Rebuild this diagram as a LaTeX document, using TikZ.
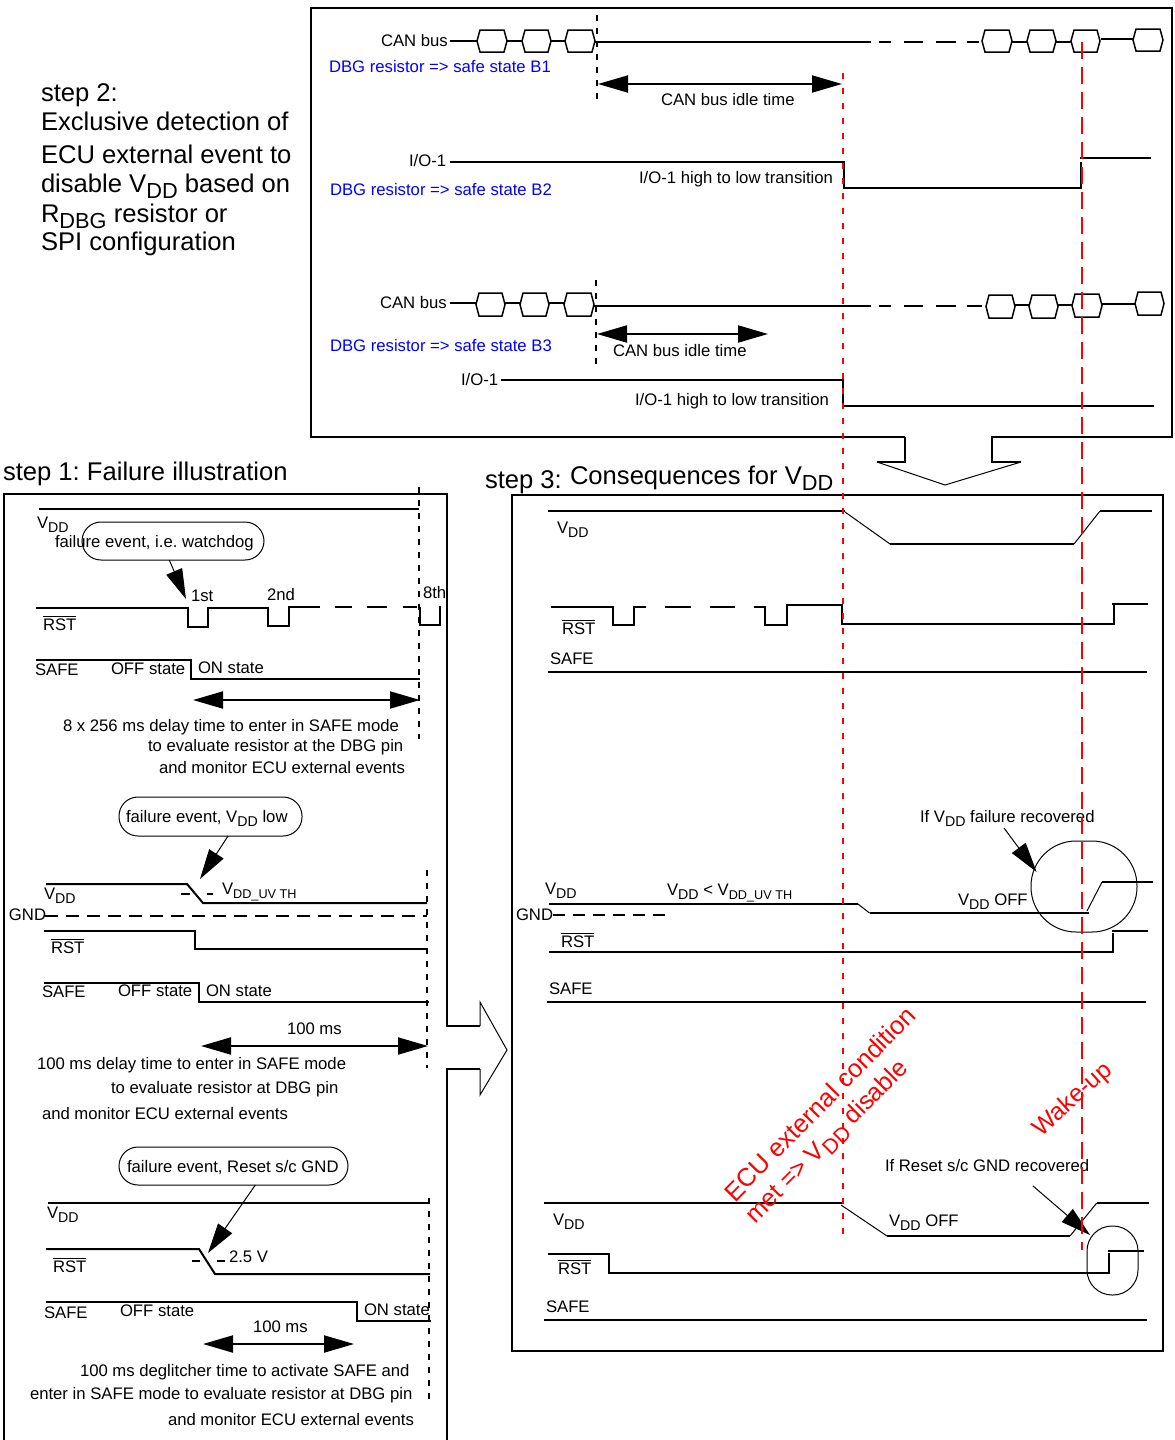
\documentclass[tikz,border=0pt]{standalone}
\usepackage{fontspec}
\setmainfont{Liberation Sans}
\usetikzlibrary{arrows.meta}
\frenchspacing
\newcommand{\lowtxt}[1]{\raisebox{-0.24em}{\scalebox{0.85}{#1}}}
\newcommand{\lowsmall}[1]{\raisebox{-0.24em}{\scalebox{0.76}{#1}}}
\newcommand{\vdd}{V\lowtxt{DD}}
\newcommand{\rstbar}{\leavevmode\vbox{\hrule height 1.2pt\kern 1.6pt\hbox{RST}}}
\newcommand{\hexa}[4]{\draw[wave,line width=1.5pt] (#1,{(#3+#4)/2}) -- (#1+3,#3) -- (#2-3,#3) -- (#2,{(#3+#4)/2}) -- (#2-3,#4) -- (#1+3,#4) -- cycle;}
\tikzset{
  txt/.style={inner sep=0pt,outer sep=0pt,anchor=base west,font=\fontsize{16.7}{18}\selectfont,text=black},
  bluetxt/.style={txt,text=blue},
  bigtxt/.style={txt,font=\fontsize{25.6}{28}\selectfont},
  redtxt/.style={txt,text=red,font=\fontsize{25.5}{28}\selectfont},
  wave/.style={line width=2pt,black,line join=miter},
  frame/.style={line width=2pt,black},
  vdash/.style={line width=2pt,black,dash pattern=on 6pt off 7pt},
  hdash/.style={line width=2pt,black},
  reddot/.style={line width=2pt,red,dash pattern=on 6pt off 9pt},
  reddash/.style={line width=2pt,red,dash pattern=on 17pt off 8pt},
  span/.style={line width=2pt,black,{Triangle[length=30pt,width=17pt]}-{Triangle[length=30pt,width=17pt]}},
  callout/.style={line width=1pt,black,-{Triangle[length=30pt,width=17pt]}},
  pill/.style={draw,line width=1pt,rounded corners=19pt,inner sep=0pt,outer sep=0pt},
}
\begin{document}
\begin{tikzpicture}[x=1pt,y=-1pt]
\useasboundingbox[fill=white] (0,0) rectangle (1175,1440);

% --- frames with block arrows ---
\draw[frame] (905,437) -- (311,437) -- (311,8) -- (1172,8) -- (1172,437) -- (992,437) -- (992,462) -- (1021,462);
\draw[line width=1pt] (1021,462) -- (945,485) -- (877,462);
\draw[frame] (877,462) -- (905,462) -- (905,437);
\draw[frame] (512,495) rectangle (1163,1351);
\draw[frame] (4,1441) -- (4,494) -- (447,494) -- (447,1026) -- (480,1026);
\draw[line width=1pt] (480,1026) -- (480,1002) -- (507,1050) -- (480,1095) -- (480,1069);
\draw[frame] (480,1069) -- (447,1069) -- (447,1441);

% --- step 2 text ---
\node[bigtxt] (s2a) at (41,101) {step 2:};
\node[bigtxt] (s2b) at (41,130) {Exclusive detection of};
\node[bigtxt] (s2c) at (41,163) {ECU external event to};
\node[bigtxt] (s2d) at (41,192) {disable \vdd{} based on};
\node[bigtxt] (s2e) at (41,222) {R\lowtxt{DBG} resistor or};
\node[bigtxt] (s2f) at (41,250) {SPI configuration};
\node[bigtxt] (s1) at (3,480) {step 1: Failure illustration};
\node[bigtxt] (s3a) at (485,488) {step 3:};
\node[bigtxt] (s3b) at (570,484) {Consequences for \vdd};

% --- top panel: B1 ---
\node[txt] (can1) at (381,46) {CAN bus};
\draw[wave] (450,41) -- (477,41) (507,41) -- (522,41) (551,41) -- (565,41);
\hexa{477}{507}{30}{52}\hexa{522}{551}{30}{52}\hexa{565}{595}{30}{52}
\draw[wave] (595,42) -- (871,42);
\draw[wave] (879,42) -- (891,42) (904,42) -- (923,42) (936,42) -- (956,42) (967,42) -- (979,42);
\hexa{982}{1012}{30}{52}\hexa{1027}{1056}{30}{52}\hexa{1071}{1100}{30}{52}\hexa{1133}{1163}{29}{51}
\draw[wave] (1012,42) -- (1027,42) (1056,42) -- (1071,42) (1101,39) -- (1133,39);
\draw[vdash] (597,15) -- (597,103);
\node[bluetxt] (b1) at (329,72) {DBG resistor => safe state B1};
\draw[span] (598,84) -- (842,84);
\node[txt] (idle1) at (661,105) {CAN bus idle time};
% I/O-1 first
\node[txt] (io1) at (409,166) {I/O-1};
\draw[wave] (450,162) -- (844,162) -- (844,188) -- (1081,188) -- (1081,162);
\draw[wave] (1080,158) -- (1151,158);
\node[txt] (tr1) at (639,183) {I/O-1 high to low transition};
\node[bluetxt] (b2) at (330,195) {DBG resistor => safe state B2};
% B3
\node[txt] (can2) at (380,308) {CAN bus};
\draw[wave] (450,303) -- (476,303) (505,303) -- (520,303) (549,303) -- (564,303);
\hexa{476}{505}{293}{316}\hexa{520}{549}{293}{316}\hexa{564}{594}{293}{316}
\draw[wave] (594,306) -- (871,306);
\draw[wave] (879,306) -- (891,306) (904,306) -- (923,306) (936,306) -- (956,306) (967,306) -- (982,306);
\hexa{986}{1015}{295}{318}\hexa{1029}{1058}{295}{318}\hexa{1072}{1102}{294}{317}\hexa{1135}{1164}{292}{315}
\draw[wave] (1015,305) -- (1029,305) (1058,305) -- (1072,305) (1102,304) -- (1135,304);
\draw[vdash] (596,280) -- (596,368);
\draw[span] (597,334) -- (768,334);
\node[txt] (idle2) at (613,356) {CAN bus idle time};
\node[bluetxt] (b3) at (330,351) {DBG resistor => safe state B3};
\node[txt] (io2) at (461,385) {I/O-1};
\draw[wave] (501,380) -- (843,380) -- (843,406) -- (1154,406);
\node[txt] (tr2) at (635,405) {I/O-1 high to low transition};

% --- left panel: group 1 ---
\draw[wave] (39,509) -- (419,509);
\node[txt] (l1v) at (37,528) {\vdd};
\node[pill,minimum width=182pt,minimum height=38pt] (pill1) at (173,541) {};
\node[txt] (l1f) at (55,547) {failure event, i.e. watchdog};
\coordinate (t1) at (186,599);
\draw[callout] (pill1.-101) -- (t1);
\node[txt] (l1a) at (191,601) {1st};
\node[txt] (l1b) at (267,600) {2nd};
\node[txt] (l1c) at (423,598) {8th};
\draw[wave] (36,608) -- (188,608) -- (188,627) -- (208,627) -- (208,608) -- (268,608) -- (268,626) -- (289,626) -- (289,607) -- (320,607);
\draw[wave] (335,607) -- (352,607) (367,607) -- (387,607) (403,607) -- (417,607);
\draw[wave] (419.5,607) -- (419.5,625) -- (440,625) -- (440,606);
\node[txt] (l1r) at (43,630) {\rstbar};
\draw[wave] (36,660) -- (191,660) -- (191,679) -- (420,679);
\node[txt] (l1s) at (35,675) {SAFE};
\node[txt] (l1o) at (111,674) {OFF state};
\node[txt] (l1n) at (198,673) {ON state};
\draw[span] (193,700) -- (420,700);
\node[txt] (l1t1) at (63,731) {8 x 256 ms delay time to enter in SAFE mode};
\node[txt] (l1t2) at (148,751) {to evaluate resistor at the DBG pin};
\node[txt] (l1t3) at (159,773) {and monitor ECU external events};
\draw[vdash] (419,487) -- (419,739);

% --- left panel: group 2 ---
\node[pill,minimum width=183pt,minimum height=39pt] (pill2) at (210.5,816.5) {};
\node[txt] (l2f) at (126,822) {failure event, \vdd{} low};
\coordinate (t2) at (200,879);
\draw[callout] (pill2.-48) -- (t2);
\draw[wave] (46,884) -- (187,884) -- (203,903) -- (427,903);
\draw[hdash,dash pattern=on 9pt off 17pt] (181,894) -- (213,894);
\node[txt] (l2v) at (44,899) {\vdd};
\node[txt] (l2u) at (222,894) {V\lowsmall{DD\_UV TH}};
\node[txt] (l2g) at (9,920) {GND};
\draw[hdash,dash pattern=on 13pt off 8pt] (45,916) -- (427,916);
\draw[wave] (44,931) -- (195,931) -- (195,949) -- (428,949);
\node[txt] (l2r) at (51,953) {\rstbar};
\draw[wave] (44,983) -- (199,983) -- (199,1002) -- (429,1002);
\node[txt] (l2s) at (42,997) {SAFE};
\node[txt] (l2o) at (118,996) {OFF state};
\node[txt] (l2n) at (206,996) {ON state};
\node[txt] (l2m) at (287,1034) {100 ms};
\draw[span] (201,1046) -- (428,1046);
\node[txt] (l2t1) at (37,1069) {100 ms delay time to enter in SAFE mode};
\node[txt] (l2t2) at (111,1093) {to evaluate resistor at DBG pin};
\node[txt] (l2t3) at (42,1119) {and monitor ECU external events};
\draw[vdash] (427,870) -- (427,1068);

% --- left panel: group 3 ---
\node[pill,minimum width=229pt,minimum height=38pt] (pill3) at (233.5,1166) {};
\node[txt] (l3f) at (127,1172) {failure event, Reset s/c GND};
\coordinate (t3) at (208,1253);
\draw[callout] (pill3.-41.5) -- (t3);
\draw[wave] (48,1203) -- (430,1203);
\node[txt] (l3v) at (47,1218) {\vdd};
\draw[wave] (46,1249) -- (199,1249) -- (215,1274) -- (430,1274);
\draw[hdash,dash pattern=on 8pt off 17pt] (192,1261) -- (225,1261);
\node[txt] (l3u) at (229,1262) {2.5 V};
\node[txt] (l3r) at (53,1272) {\rstbar};
\draw[wave] (46,1302) -- (357,1302) -- (357,1321) -- (431,1321);
\node[txt] (l3s) at (44,1318) {SAFE};
\node[txt] (l3o) at (120,1316) {OFF state};
\node[txt] (l3n) at (364,1315) {ON state};
\node[txt] (l3m) at (253,1332) {100 ms};
\draw[span] (203,1344) -- (354,1344);
\node[txt] (l3t1) at (80,1376) {100 ms deglitcher time to activate SAFE and};
\node[txt] (l3t2) at (30,1399) {enter in SAFE mode to evaluate resistor at DBG pin};
\node[txt] (l3t3) at (168,1425) {and monitor ECU external events};
\draw[vdash] (429,1198) -- (429,1400);

% --- step 3 panel: group 1 ---
\draw[wave] (548,511) -- (845,511);
\draw[line width=1pt] (845,512) -- (890,544);
\draw[wave] (890,544) -- (1074,544);
\draw[line width=1pt] (1074,544) -- (1100,511);
\draw[wave] (1100,511) -- (1152,511);
\node[txt] (r1v) at (557,533) {\vdd};
\draw[wave] (551,607) -- (613,607) -- (613,625) -- (634,625) -- (634,607) -- (645.5,607);
\draw[wave] (665,607) -- (691,607) (710,607) -- (735,607) (754,607) -- (765,607) -- (765,625) -- (787,625) -- (787,605) -- (842,605) -- (842,624) -- (1114,624) -- (1114,605);
\draw[wave] (1112,604) -- (1148,604);
\node[txt] (r1r) at (562,634) {\rstbar};
\node[txt] (r1s) at (550,664) {SAFE};
\draw[wave] (548,672) -- (1147,672);

% --- step 3 panel: group 2 ---
\draw[wave] (549,904) -- (858,904);
\draw[line width=1pt] (858,904) -- (869.5,913);
\draw[wave] (869.5,913) -- (1089,913);
\draw[line width=1pt] (1087,911) -- (1102,882);
\draw[wave] (1102,882) -- (1153,882);
\node[txt] (r2v) at (545,894) {\vdd};
\node[txt] (r2c) at (667,895) {\vdd{} < V\lowsmall{DD\_UV TH}};
\node[txt] (r2g) at (516,920) {GND};
\draw[hdash,dash pattern=on 12pt off 8pt] (553,915) -- (668,915);
\node[txt] (r2o) at (958,905) {\vdd{} OFF};
\node[txt] (r2i) at (920,822) {If \vdd{} failure recovered};
\node[draw,line width=1pt,rounded corners=45pt,inner sep=0pt,minimum width=106pt,minimum height=91pt] (pill4) at (1084,886.5) {};
\coordinate (c4a) at (1004,828);
\coordinate (c4b) at (1036.6,872);
\draw[callout] (c4a) -- (c4b);
\draw[wave] (549,952) -- (1113,952) -- (1113,933);
\draw[wave] (1112,931) -- (1148,931);
\node[txt] (r2r) at (561,947) {\rstbar};
\node[txt] (r2s) at (549,994) {SAFE};
\draw[wave] (547,1002) -- (1146,1002);

% --- step 3 panel: group 3 ---
\draw[wave] (544,1203) -- (843,1203);
\draw[line width=1pt] (841,1205) -- (887,1236);
\draw[wave] (887,1236) -- (1070,1236);
\draw[line width=1pt] (1070,1236) -- (1096.7,1203);
\draw[wave] (1096.7,1203) -- (1149,1203);
\node[txt] (r3v) at (553,1225) {\vdd};
\node[txt] (r3o) at (889,1226) {\vdd{} OFF};
\node[txt] (r3i) at (885,1171) {If Reset s/c GND recovered};
\draw[wave] (548,1254) -- (609,1254) -- (609,1273) -- (1109,1273) -- (1109,1253);
\draw[wave] (1108,1251) -- (1144,1251);
\node[txt] (r3r) at (558,1274) {\rstbar};
\node[txt] (r3s) at (546,1312) {SAFE};
\draw[wave] (544,1320) -- (1147,1320);
\node[draw,line width=1pt,rounded corners=25pt,inner sep=0pt,minimum width=51pt,minimum height=69pt] (pill5) at (1112.5,1260.5) {};
\coordinate (c5a) at (1033,1186);
\coordinate (c5b) at (1090,1235);
\draw[callout] (c5a) -- (c5b);

% --- red markers ---
\draw[reddot] (843,73) -- (843,1242);
\draw[reddash] (1082,42) -- (1082,1250);
\node[redtxt,rotate=45.5] (e1) at (735,1203) {ECU external condition};
\node[redtxt,font=\fontsize{25}{28}\selectfont,rotate=45] (e2) at (755,1224) {met => \vdd{} disable};
\node[redtxt,font=\fontsize{24.5}{28}\selectfont,rotate=42] (e3) at (1041,1137) {Wake-up};
\end{tikzpicture}
\end{document}
